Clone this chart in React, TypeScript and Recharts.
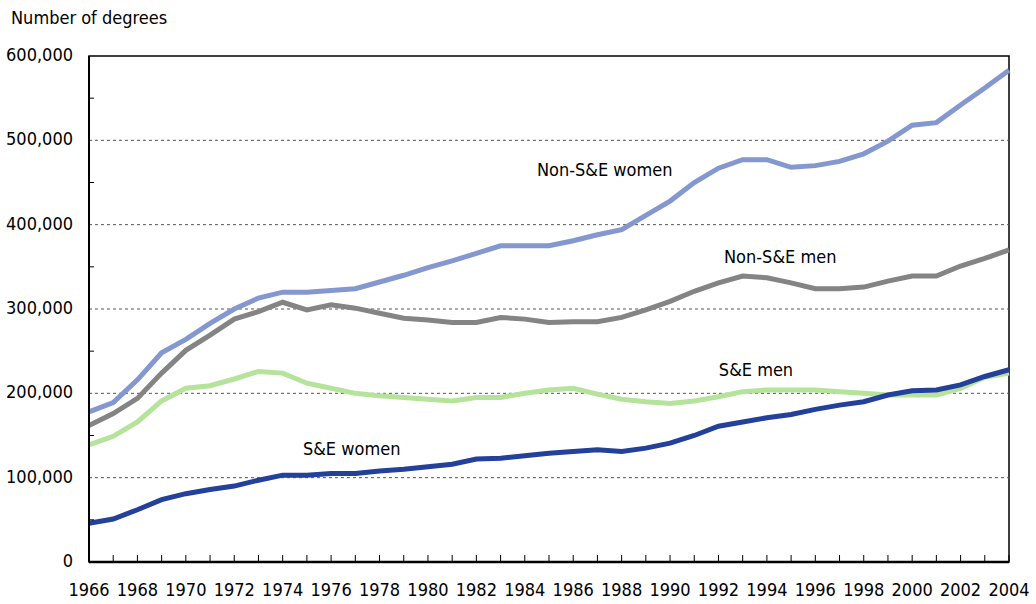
import { LineChart, Line, XAxis, YAxis, ReferenceLine, ReferenceArea, ReferenceDot } from 'recharts';

const FONT = "'Liberation Sans Narrow', 'DejaVu Sans Condensed', Arial, sans-serif";

const years = [
  1966, 1967, 1968, 1969, 1970, 1971, 1972, 1973, 1974, 1975, 1976, 1977, 1978,
  1979, 1980, 1981, 1982, 1983, 1984, 1985, 1986, 1987, 1988, 1989, 1990, 1991,
  1992, 1993, 1994, 1995, 1996, 1997, 1998, 1999, 2000, 2001, 2002, 2003, 2004,
];

const nonSEWomen = [
  178000, 189000, 216000, 248000, 264000, 283000, 300000, 313000, 320000, 320000, 322000, 324000, 332000,
  340000, 349000, 357000, 366000, 375000, 375000, 375000, 381000, 388000, 394000, 411000, 428000, 450000,
  467000, 477000, 477000, 468000, 470000, 475000, 484000, 499000, 518000, 521000, 542000, 562000, 583000,
];

const nonSEMen = [
  162000, 176000, 194000, 224000, 251000, 269000, 288000, 297000, 308000, 299000, 305000, 301000, 295000,
  289000, 287000, 284000, 284000, 290000, 288000, 284000, 285000, 285000, 290000, 299000, 309000, 321000,
  331000, 339000, 337000, 331000, 324000, 324000, 326000, 333000, 339000, 339000, 351000, 360000, 370000,
];

const seMen = [
  139000, 149000, 166000, 191000, 206000, 209000, 217000, 226000, 224000, 212000, 206000, 200000, 197000,
  195000, 193000, 191000, 195000, 195000, 200000, 204000, 206000, 199000, 193000, 190000, 188000, 191000,
  196000, 202000, 204000, 204000, 204000, 202000, 200000, 198000, 198000, 198000, 206000, 219000, 224000,
];

const seWomen = [
  46000, 51000, 62000, 74000, 81000, 86000, 90000, 97000, 103000, 103000, 105000, 105000, 108000,
  110000, 113000, 116000, 122000, 123000, 126000, 129000, 131000, 133000, 131000, 135000, 141000, 150000,
  161000, 166000, 171000, 175000, 181000, 186000, 190000, 198000, 203000, 204000, 210000, 220000, 228000,
];

const yTicks = [0, 50000, 100000, 150000, 200000, 250000, 300000, 350000, 400000, 450000, 500000, 550000, 600000];
const gridValues = [100000, 200000, 300000, 400000, 500000];

const seriesLabels = [
  { text: 'Non-S&E women', year: 1987.3, value: 465000 },
  { text: 'Non-S&E men', year: 1994.55, value: 362000 },
  { text: 'S&E men', year: 1993.55, value: 228000 },
  { text: 'S&E women', year: 1976.85, value: 135000 },
];

const data = years.map((year, i) => ({
  year,
  nonSEWomen: nonSEWomen[i],
  nonSEMen: nonSEMen[i],
  seMen: seMen[i],
  seWomen: seWomen[i],
}));

// small inward ticks every year, labels on even years
function YearTick({ x, y, payload }: any) {
  const v = payload.value;
  return (
    <g>
      <line x1={x} y1={y} x2={x} y2={y - 7} stroke="#000" strokeWidth={1} />
      {v % 2 === 0 && (
        <text x={x} y={y + 29} textAnchor="middle" dominantBaseline="middle" fontSize={18} fill="#000" fontFamily={FONT}>
          {v}
        </text>
      )}
    </g>
  );
}

function ValueTick({ x, y, payload }: any) {
  const v = payload.value;
  if (v % 100000 !== 0) {
    return <line x1={x} y1={y} x2={x + 5} y2={y} stroke="#000" strokeWidth={1} />;
  }
  return (
    <text x={x - 16} y={y} textAnchor="end" dominantBaseline="middle" fontSize={18} fill="#000" fontFamily={FONT}>
      {v.toLocaleString('en-US')}
    </text>
  );
}

export default function App() {
  return (
    <div style={{ position: 'absolute', left: 0, top: 0, width: 1036, height: 604, background: '#fff', fontFamily: FONT }}>
      <div style={{ position: 'absolute', left: 11, top: 7, fontSize: 18, color: '#000' }}>Number of degrees</div>
      <LineChart width={1036} height={604} data={data} margin={{ top: 56, right: 27, bottom: 12, left: 0 }}>
        <XAxis
          dataKey="year"
          type="number"
          domain={[1966, 2004]}
          ticks={years}
          interval={0}
          height={30}
          tickSize={0}
          tickMargin={0}
          tickLine={false}
          axisLine={{ stroke: '#000', strokeWidth: 2.5 }}
          tick={<YearTick />}
        />
        <YAxis
          type="number"
          domain={[0, 600000]}
          ticks={yTicks}
          interval={0}
          width={89}
          tickSize={0}
          tickMargin={0}
          tickLine={false}
          axisLine={{ stroke: '#000', strokeWidth: 2 }}
          tick={<ValueTick />}
        />
        <ReferenceArea x1={1966} x2={2004} y1={0} y2={600000} fill="none" stroke="#000" strokeWidth={1.5} />
        {gridValues.map((v) => (
          <ReferenceLine key={v} y={v} stroke="#555" strokeWidth={1} strokeDasharray="3 3" />
        ))}
        <Line type="linear" dataKey="nonSEWomen" stroke="#8497cf" strokeWidth={5} dot={false} activeDot={false} isAnimationActive={false} />
        <Line type="linear" dataKey="nonSEMen" stroke="#848484" strokeWidth={5} dot={false} activeDot={false} isAnimationActive={false} />
        <Line type="linear" dataKey="seMen" stroke="#b5e39b" strokeWidth={5} dot={false} activeDot={false} isAnimationActive={false} />
        <Line type="linear" dataKey="seWomen" stroke="#23409a" strokeWidth={5} dot={false} activeDot={false} isAnimationActive={false} />
        {seriesLabels.map((l) => (
          <ReferenceDot
            key={l.text}
            x={l.year}
            y={l.value}
            r={0}
            fill="none"
            stroke="none"
            label={{ value: l.text, position: 'center', fontSize: 18, fill: '#000', fontFamily: FONT }}
          />
        ))}
      </LineChart>
    </div>
  );
}
